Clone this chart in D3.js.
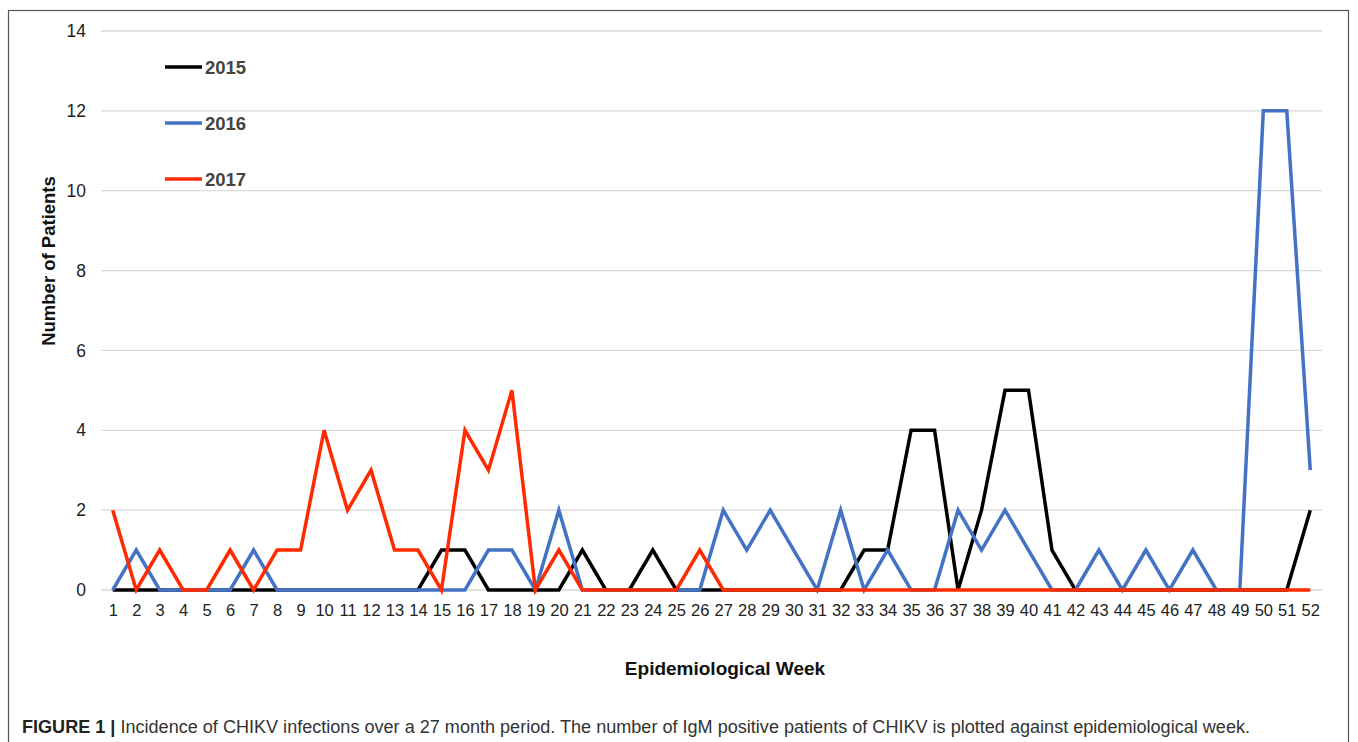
<!DOCTYPE html>
<html><head><meta charset="utf-8">
<script src="https://cdn.jsdelivr.net/npm/d3@7"></script>
<style>body{margin:0;background:#fff;}svg{display:block;font-family:"Liberation Sans",Arial,sans-serif;}</style>
</head><body>
<svg id="c" width="1358" height="742"></svg>
<script>
const weeks = d3.range(1, 53);
const yTicks = [0, 2, 4, 6, 8, 10, 12, 14];
const seriesNames = ["2015", "2016", "2017"];
const colors = ["#000000", "#4472c4", "#ff2a00"];
const v2015 = [0,0,0,0,0,0,0,0,0,0,0,0,0,0,1,1,0,0,0,0,1,0,0,1,0,0,0,0,0,0,0,0,1,1,4,4,0,2,5,5,1,0,0,0,0,0,0,0,0,0,0,2];
const v2016 = [0,1,0,0,0,0,1,0,0,0,0,0,0,0,0,0,1,1,0,2,0,0,0,0,0,0,2,1,2,1,0,2,0,1,0,0,2,1,2,1,0,0,1,0,1,0,1,0,0,12,12,3];
const v2017 = [2,0,1,0,0,1,0,1,1,4,2,3,1,1,0,4,3,5,0,1,0,0,0,0,0,1,0,0,0,0,0,0,0,0,0,0,0,0,0,0,0,0,0,0,0,0,0,0,0,0,0,0];
const series = [v2015, v2016, v2017];

const svg = d3.select("#c");
const L = 101, R = 1322, T = 31, B = 590;

svg.append("rect").attr("x", 8.5).attr("y", 10.5).attr("width", 1340).attr("height", 760)
  .attr("fill", "none").attr("stroke", "#555").attr("stroke-width", 1.2);

const x = d3.scalePoint().domain(weeks).range([L, R]).padding(0.5);
const y = d3.scaleLinear().domain([0, 14]).range([B, T]);

svg.append("g").selectAll("line").data(yTicks).join("line")
  .attr("x1", L).attr("x2", R).attr("y1", d => y(d)).attr("y2", d => y(d))
  .attr("stroke", "#d9d9d9").attr("stroke-width", 1.3);

const yAxis = svg.append("g").attr("transform", `translate(${L},0)`)
  .call(d3.axisLeft(y).tickValues(yTicks).tickSize(0).tickPadding(15));
yAxis.select(".domain").remove();
yAxis.selectAll("text").attr("font-size", 17.5).attr("fill", "#222").attr("font-family", "Liberation Sans, Arial, sans-serif");

const xAxis = svg.append("g").attr("transform", `translate(0,${B})`)
  .call(d3.axisBottom(x).tickSize(0).tickPadding(14));
xAxis.select(".domain").remove();
xAxis.selectAll("text").attr("font-size", 16.5).attr("fill", "#222").attr("font-family", "Liberation Sans, Arial, sans-serif");

const line = d3.line().x((d, i) => x(weeks[i])).y(d => y(d));
series.forEach((s, k) => {
  svg.append("path").datum(s).attr("d", line).attr("fill", "none")
    .attr("stroke", colors[k]).attr("stroke-width", 3.5).attr("stroke-linejoin", "miter");
});

// legend
const lg = svg.append("g");
seriesNames.forEach((n, k) => {
  const yy = 67 + k * 56;
  lg.append("line").attr("x1", 165).attr("x2", 202).attr("y1", yy).attr("y2", yy)
    .attr("stroke", colors[k]).attr("stroke-width", 3.5);
  lg.append("text").attr("x", 205).attr("y", yy + 6.5).text(n)
    .attr("font-size", 18.5).attr("font-weight", "bold").attr("fill", "#444");
});

svg.append("text").attr("transform", "translate(55,261) rotate(-90)").attr("text-anchor", "middle")
  .attr("font-size", 18.5).attr("font-weight", "bold").attr("fill", "#111").text("Number of Patients");
svg.append("text").attr("x", 725).attr("y", 675).attr("text-anchor", "middle")
  .attr("font-size", 19).attr("font-weight", "bold").attr("fill", "#111").text("Epidemiological Week");

const cap = svg.append("text").attr("x", 22).attr("y", 733).attr("font-size", 17.5).attr("fill", "#333")
  .attr("textLength", 1228).attr("lengthAdjust", "spacingAndGlyphs");
cap.append("tspan").attr("font-weight", "bold").attr("fill", "#222").text("FIGURE 1 | ");
cap.append("tspan").text("Incidence of CHIKV infections over a 27 month period. The number of IgM positive patients of CHIKV is plotted against epidemiological week.");
</script>
</body></html>
